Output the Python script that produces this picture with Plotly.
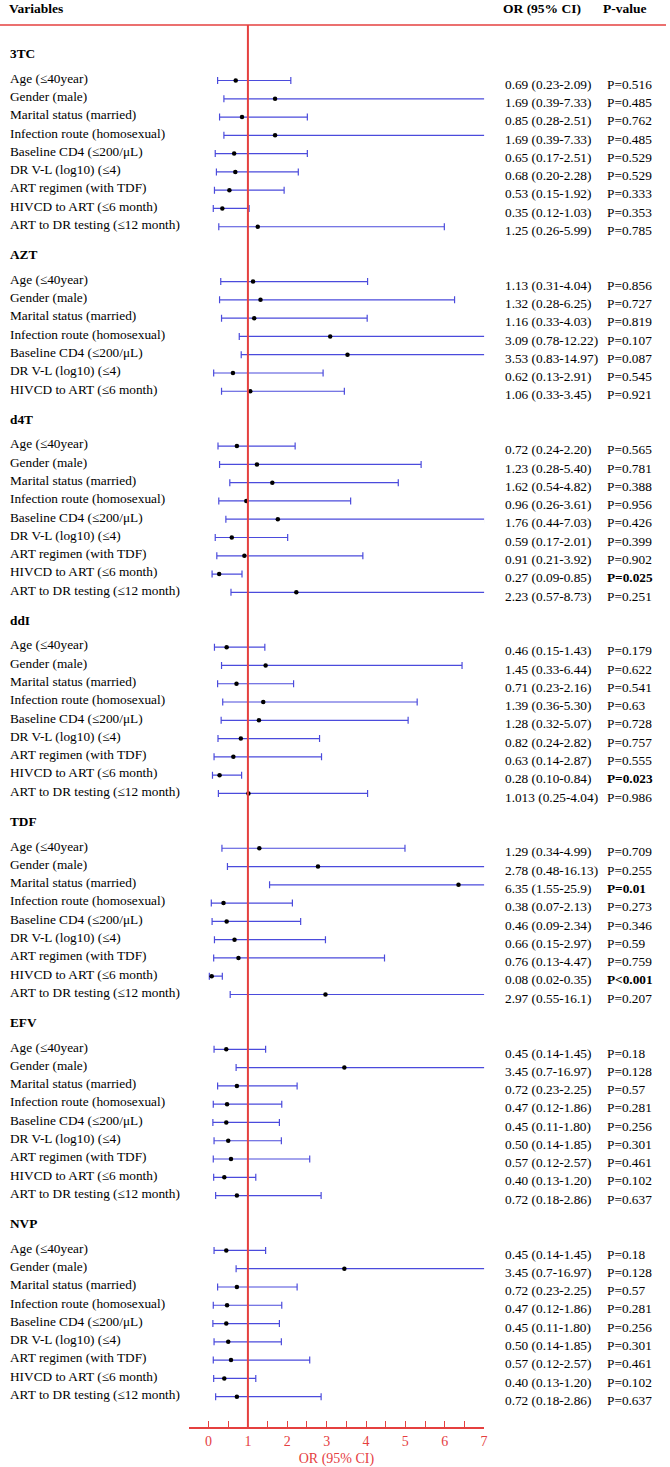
import plotly.graph_objects as go

# ---------------- data ----------------
groups = ["3TC", "AZT", "d4T", "ddI", "TDF", "EFV", "NVP"]

full_vars = ["Age (≤40year)", "Gender (male)", "Marital status (married)",
             "Infection route (homosexual)", "Baseline CD4 (≤200/μL)",
             "DR V-L (log10) (≤4)", "ART regimen (with TDF)",
             "HIVCD to ART (≤6 month)", "ART to DR testing (≤12 month)"]
azt_vars = ["Age (≤40year)", "Gender (male)", "Marital status (married)",
            "Infection route (homosexual)", "Baseline CD4 (≤200/μL)",
            "DR V-L (log10) (≤4)", "HIVCD to ART (≤6 month)"]
group_vars = [full_vars, azt_vars, full_vars, full_vars, full_vars, full_vars, full_vars]

or_3tc = [0.69, 1.69, 0.85, 1.69, 0.65, 0.68, 0.53, 0.35, 1.25]
lo_3tc = [0.23, 0.39, 0.28, 0.39, 0.17, 0.20, 0.15, 0.12, 0.26]
hi_3tc = [2.09, 7.33, 2.51, 7.33, 2.51, 2.28, 1.92, 1.03, 5.99]
txt_3tc = ["0.69 (0.23-2.09)", "1.69 (0.39-7.33)", "0.85 (0.28-2.51)", "1.69 (0.39-7.33)",
           "0.65 (0.17-2.51)", "0.68 (0.20-2.28)", "0.53 (0.15-1.92)", "0.35 (0.12-1.03)",
           "1.25 (0.26-5.99)"]
p_3tc = ["P=0.516", "P=0.485", "P=0.762", "P=0.485", "P=0.529", "P=0.529", "P=0.333",
         "P=0.353", "P=0.785"]

or_azt = [1.13, 1.32, 1.16, 3.09, 3.53, 0.62, 1.06]
lo_azt = [0.31, 0.28, 0.33, 0.78, 0.83, 0.13, 0.33]
hi_azt = [4.04, 6.25, 4.03, 12.22, 14.97, 2.91, 3.45]
txt_azt = ["1.13 (0.31-4.04)", "1.32 (0.28-6.25)", "1.16 (0.33-4.03)", "3.09 (0.78-12.22)",
           "3.53 (0.83-14.97)", "0.62 (0.13-2.91)", "1.06 (0.33-3.45)"]
p_azt = ["P=0.856", "P=0.727", "P=0.819", "P=0.107", "P=0.087", "P=0.545", "P=0.921"]

or_d4t = [0.72, 1.23, 1.62, 0.96, 1.76, 0.59, 0.91, 0.27, 2.23]
lo_d4t = [0.24, 0.28, 0.54, 0.26, 0.44, 0.17, 0.21, 0.09, 0.57]
hi_d4t = [2.20, 5.40, 4.82, 3.61, 7.03, 2.01, 3.92, 0.85, 8.73]
txt_d4t = ["0.72 (0.24-2.20)", "1.23 (0.28-5.40)", "1.62 (0.54-4.82)", "0.96 (0.26-3.61)",
           "1.76 (0.44-7.03)", "0.59 (0.17-2.01)", "0.91 (0.21-3.92)", "0.27 (0.09-0.85)",
           "2.23 (0.57-8.73)"]
p_d4t = ["P=0.565", "P=0.781", "P=0.388", "P=0.956", "P=0.426", "P=0.399", "P=0.902",
         "<b>P=0.025</b>", "P=0.251"]

or_ddi = [0.46, 1.45, 0.71, 1.39, 1.28, 0.82, 0.63, 0.28, 1.013]
lo_ddi = [0.15, 0.33, 0.23, 0.36, 0.32, 0.24, 0.14, 0.10, 0.25]
hi_ddi = [1.43, 6.44, 2.16, 5.30, 5.07, 2.82, 2.87, 0.84, 4.04]
txt_ddi = ["0.46 (0.15-1.43)", "1.45 (0.33-6.44)", "0.71 (0.23-2.16)", "1.39 (0.36-5.30)",
           "1.28 (0.32-5.07)", "0.82 (0.24-2.82)", "0.63 (0.14-2.87)", "0.28 (0.10-0.84)",
           "1.013 (0.25-4.04)"]
p_ddi = ["P=0.179", "P=0.622", "P=0.541", "P=0.63", "P=0.728", "P=0.757", "P=0.555",
         "<b>P=0.023</b>", "P=0.986"]

or_tdf = [1.29, 2.78, 6.35, 0.38, 0.46, 0.66, 0.76, 0.08, 2.97]
lo_tdf = [0.34, 0.48, 1.55, 0.07, 0.09, 0.15, 0.13, 0.02, 0.55]
hi_tdf = [4.99, 16.13, 25.9, 2.13, 2.34, 2.97, 4.47, 0.35, 16.1]
txt_tdf = ["1.29 (0.34-4.99)", "2.78 (0.48-16.13)", "6.35 (1.55-25.9)", "0.38 (0.07-2.13)",
           "0.46 (0.09-2.34)", "0.66 (0.15-2.97)", "0.76 (0.13-4.47)", "0.08 (0.02-0.35)",
           "2.97 (0.55-16.1)"]
p_tdf = ["P=0.709", "P=0.255", "<b>P=0.01</b>", "P=0.273", "P=0.346", "P=0.59", "P=0.759",
         "<b>P&lt;0.001</b>", "P=0.207"]

or_efv = [0.45, 3.45, 0.72, 0.47, 0.45, 0.50, 0.57, 0.40, 0.72]
lo_efv = [0.14, 0.7, 0.23, 0.12, 0.11, 0.14, 0.12, 0.13, 0.18]
hi_efv = [1.45, 16.97, 2.25, 1.86, 1.80, 1.85, 2.57, 1.20, 2.86]
txt_efv = ["0.45 (0.14-1.45)", "3.45 (0.7-16.97)", "0.72 (0.23-2.25)", "0.47 (0.12-1.86)",
           "0.45 (0.11-1.80)", "0.50 (0.14-1.85)", "0.57 (0.12-2.57)", "0.40 (0.13-1.20)",
           "0.72 (0.18-2.86)"]
p_efv = ["P=0.18", "P=0.128", "P=0.57", "P=0.281", "P=0.256", "P=0.301", "P=0.461",
         "P=0.102", "P=0.637"]

or_nvp = [0.45, 3.45, 0.72, 0.47, 0.45, 0.50, 0.57, 0.40, 0.72]
lo_nvp = [0.14, 0.7, 0.23, 0.12, 0.11, 0.14, 0.12, 0.13, 0.18]
hi_nvp = [1.45, 16.97, 2.25, 1.86, 1.80, 1.85, 2.57, 1.20, 2.86]
txt_nvp = ["0.45 (0.14-1.45)", "3.45 (0.7-16.97)", "0.72 (0.23-2.25)", "0.47 (0.12-1.86)",
           "0.45 (0.11-1.80)", "0.50 (0.14-1.85)", "0.57 (0.12-2.57)", "0.40 (0.13-1.20)",
           "0.72 (0.18-2.86)"]
p_nvp = ["P=0.18", "P=0.128", "P=0.57", "P=0.281", "P=0.256", "P=0.301", "P=0.461",
         "P=0.102", "P=0.637"]

x_ticks = [0, 1, 2, 3, 4, 5, 6, 7]

all_or = [or_3tc, or_azt, or_d4t, or_ddi, or_tdf, or_efv, or_nvp]
all_lo = [lo_3tc, lo_azt, lo_d4t, lo_ddi, lo_tdf, lo_efv, lo_nvp]
all_hi = [hi_3tc, hi_azt, hi_d4t, hi_ddi, hi_tdf, hi_efv, hi_nvp]
all_txt = [txt_3tc, txt_azt, txt_d4t, txt_ddi, txt_tdf, txt_efv, txt_nvp]
all_p = [p_3tc, p_azt, p_d4t, p_ddi, p_tdf, p_efv, p_nvp]

# ---------------- layout helpers ----------------
W, H = 670, 1467
M_T, M_B = 27, 40
PLOT_H = H - M_T - M_B
ROW_PX = 18.28
FIRST_PX = 80.5
RED = "#E5403F"
BLUE = "#4B4BDC"
FONT = "Liberation Serif"
FS = 13.3

y_top = (M_T - FIRST_PX) / ROW_PX
y_bot = (H - M_B - FIRST_PX) / ROW_PX

fig = go.Figure()
annotations = []

idx = 0
for g, name in enumerate(groups):
    annotations.append(dict(x=8 / W, xref="paper", y=idx - 1.47, yref="y", text=f"<b>{name}</b>",
                            xanchor="left", yanchor="middle", showarrow=False,
                            font=dict(family=FONT, size=FS, color="black")))
    ys = []
    for k, v in enumerate(group_vars[g]):
        y = idx + k
        ys.append(y)
        annotations.append(dict(x=8 / W, xref="paper", y=y - 0.12, yref="y", text=v,
                                xanchor="left", yanchor="middle", showarrow=False,
                                font=dict(family=FONT, size=FS, color="black")))
        annotations.append(dict(x=506 / W, xref="paper", y=y + 0.2, yref="y", text=all_txt[g][k],
                                xanchor="left", yanchor="middle", showarrow=False,
                                font=dict(family=FONT, size=FS, color="black")))
        annotations.append(dict(x=609 / W, xref="paper", y=y + 0.2, yref="y", text=all_p[g][k],
                                xanchor="left", yanchor="middle", showarrow=False,
                                font=dict(family=FONT, size=FS, color="black")))
    o = all_or[g]
    lo = all_lo[g]
    hi = all_hi[g]
    fig.add_trace(go.Scatter(
        x=o, y=ys, mode="markers",
        marker=dict(color="black", size=4.5),
        error_x=dict(type="data", symmetric=False,
                     array=[h - v for h, v in zip(hi, o)],
                     arrayminus=[v - l for v, l in zip(o, lo)],
                     color=BLUE, thickness=1.2, width=3.5),
        showlegend=False, hoverinfo="skip"))
    idx += len(group_vars[g]) + 2

# column headers
hdr_y = 1 + (M_T - 8) / PLOT_H
for xp, t in [(7, "Variables"), (504, "OR (95% CI)"), (605, "P-value")]:
    annotations.append(dict(x=xp / W, xref="paper", y=hdr_y, yref="paper", text=f"<b>{t}</b>",
                            xanchor="left", yanchor="middle", showarrow=False,
                            font=dict(family=FONT, size=13.5, color="black")))

line_y = 1 + 2 / PLOT_H
shapes = [
    dict(type="line", xref="paper", yref="paper", x0=0, x1=1, y0=line_y, y1=line_y,
         line=dict(color=RED, width=1.5)),
    dict(type="line", xref="x", yref="paper", x0=1, x1=1, y0=0, y1=line_y,
         line=dict(color=RED, width=2), layer="above"),
]

fig.update_layout(
    width=W, height=H,
    margin=dict(l=0, r=0, t=M_T, b=M_B),
    paper_bgcolor="white", plot_bgcolor="white",
    showlegend=False,
    annotations=annotations,
    shapes=shapes,
    xaxis=dict(domain=[190 / W, 487 / W], range=[-0.5, 7],
               tickvals=x_ticks, ticktext=[str(v) for v in x_ticks],
               ticks="inside", ticklen=6, tickwidth=1, tickcolor=RED,
               minor=dict(ticks="inside", dtick=0.5, tick0=0, ticklen=6, tickcolor=RED, tickwidth=1,
                          showgrid=False),
               showline=True, linecolor=RED, linewidth=1.5,
               showgrid=False, zeroline=False,
               tickfont=dict(family=FONT, size=14, color=RED),
               title=dict(text="OR (95% CI)", font=dict(family=FONT, size=14, color=RED), standoff=6)),
    yaxis=dict(range=[y_bot, y_top], visible=False, showgrid=False, zeroline=False),
    font=dict(family=FONT, size=FS, color="black"),
)

fig.write_html("out.html", config={"displayModeBar": False},
               post_script="document.body.style.margin='0px';")
